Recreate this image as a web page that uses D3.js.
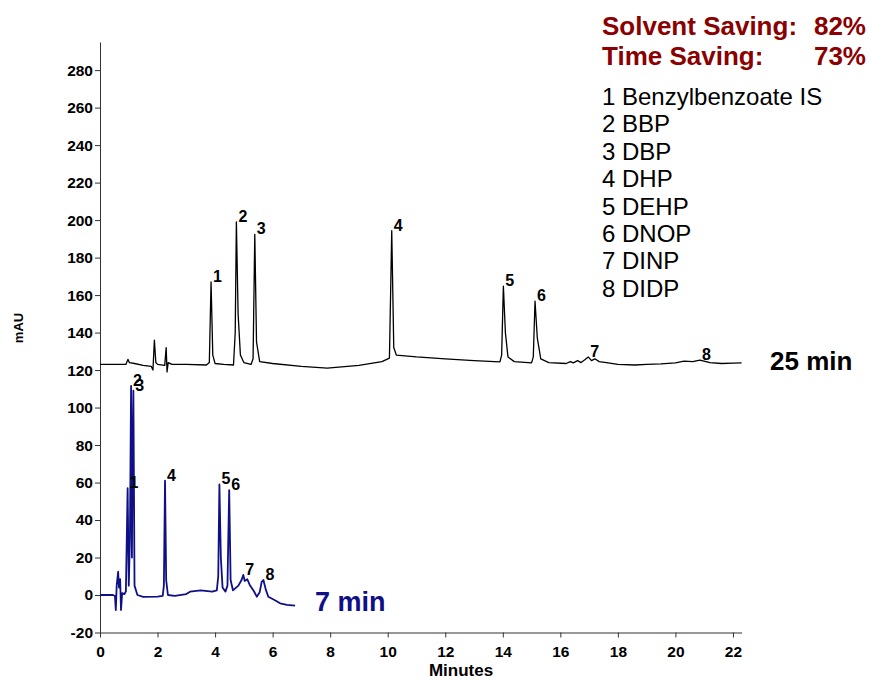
<!DOCTYPE html>
<html>
<head>
<meta charset="utf-8">
<script src="https://cdn.jsdelivr.net/npm/d3@7"></script>
<style>
  body { margin: 0; background: #fff; }
  svg { display: block; font-family: Arial, "Liberation Sans", sans-serif; }
</style>
</head>
<body>
<svg id="chart" width="870" height="680"></svg>
<script>
// 25 min run (black), [minutes, mAU]
const trace25 = [
  [0, 123], [0.9, 123], [0.97, 125.7], [1.02, 124], [1.2, 123.5], [1.5, 122.5], [1.78, 122],
  [1.84, 120], [1.89, 136], [1.94, 124], [2.0, 123], [2.25, 122.5], [2.3, 132], [2.33, 119],
  [2.37, 124], [2.5, 123], [3.0, 123], [3.7, 122.7], [3.8, 124], [3.86, 167], [3.92, 128],
  [4.0, 123.5], [4.3, 123], [4.64, 122.7], [4.7, 140], [4.74, 199], [4.8, 150], [4.88, 128],
  [5.0, 124], [5.25, 123], [5.32, 126], [5.38, 192.4], [5.44, 135], [5.55, 124.5], [6.0, 123.5],
  [7.0, 122], [7.9, 121], [9.0, 122.5], [9.8, 124.5], [10.06, 126.4], [10.14, 194.3], [10.21, 132],
  [10.3, 128], [11, 127], [12, 126], [13, 125], [13.9, 124.4], [13.96, 128], [14.02, 164.8],
  [14.09, 140], [14.18, 127], [14.4, 124.5], [15.0, 123.8], [15.06, 127], [15.12, 156.8],
  [15.2, 137], [15.32, 126], [15.6, 124], [16.2, 123.5], [16.35, 124.5], [16.45, 123.8],
  [16.6, 125], [16.72, 124], [16.85, 125.5], [16.97, 127], [17.08, 125], [17.2, 126],
  [17.35, 124.5], [17.6, 124], [18, 123], [18.6, 122.7], [19, 123], [19.5, 123.3], [20, 123.8],
  [20.3, 124.8], [20.6, 124.5], [20.85, 125.3], [21.2, 124], [21.6, 123.5], [22, 123.7], [22.3, 123.8]
];

// 7 min run (navy), [minutes, mAU]
const trace7 = [
  [0, 0], [0.45, 0], [0.52, -0.5], [0.55, -8], [0.58, 5], [0.63, 12.4], [0.66, 4], [0.7, 8.4],
  [0.73, -8], [0.77, 1], [0.85, 0.5], [0.9, 2], [0.96, 57], [1.0, 5], [1.04, 30], [1.08, 111.5],
  [1.11, 20], [1.13, 72], [1.16, 109], [1.2, 5], [1.3, 0], [1.5, -1], [2.0, -0.9], [2.18, -0.5],
  [2.22, 5], [2.26, 61], [2.3, 8], [2.36, 0], [2.6, -0.5], [3.0, 0.5], [3.13, 1.8], [3.5, 2.5],
  [3.9, 1.8], [4.06, 2.5], [4.11, 10], [4.15, 59], [4.2, 20], [4.26, 4], [4.36, 1.8], [4.43, 5],
  [4.49, 56], [4.54, 8], [4.62, 2.5], [4.81, 5], [4.92, 8], [4.98, 10.7], [5.03, 7.5], [5.12, 8.4],
  [5.2, 5.5], [5.35, 2], [5.45, -0.9], [5.55, 1.5], [5.62, 7], [5.68, 8], [5.76, 3], [5.85, -0.9],
  [6.05, -2.5], [6.26, -4.4], [6.5, -5.3], [6.78, -5.7]
];

const peakIds = [1, 2, 3, 4, 5, 6, 7, 8];
const peakTimes25 = [3.86, 4.74, 5.38, 10.14, 14.02, 15.12, 16.97, 20.85];
const peakHeights25 = [167, 199, 192.4, 194.3, 164.8, 156.8, 127, 125.3];
const peakTimes7 = [0.96, 1.08, 1.16, 2.26, 4.15, 4.49, 4.98, 5.68];
const peakHeights7 = [57, 111.5, 109, 61, 59, 56, 10.7, 8];

const compounds = ['Benzylbenzoate IS', 'BBP', 'DBP', 'DHP', 'DEHP', 'DNOP', 'DINP', 'DIDP'];
const savingLabels = ['Solvent Saving:', 'Time Saving:'];
const savingValues = ['82%', '73%'];
const runLabels = ['25 min', '7 min'];

const xTicks = d3.range(0, 23, 2);
const yTicks = d3.range(-20, 281, 20);

const svg = d3.select('#chart');
const plotLeft = 100, plotRight = 741.6, plotTop = 42, plotBottom = 632.5;

const x = d3.scaleLinear().domain([0, 22.3]).range([plotLeft, plotRight]);
const y = d3.scaleLinear().domain([-20, 295]).range([plotBottom, plotTop]);

const red = '#8b0000';
const navy = '#0f0f88';

// axes
const xAxis = d3.axisBottom(x).tickValues(xTicks).tickSize(5).tickSizeOuter(0).tickFormat((v) => String(v));
const gx = svg.append('g').attr('transform', `translate(0,${plotBottom})`).call(xAxis);
gx.selectAll('text').attr('dy', '1.05em').style('font-size', '15.5px').style('font-weight', 'bold').attr('fill', '#000');

const yAxis = d3.axisLeft(y).tickValues(yTicks).tickSize(5).tickSizeOuter(0).tickFormat((v) => String(v));
const gy = svg.append('g').attr('transform', `translate(${plotLeft},0)`).call(yAxis);
gy.selectAll('text').attr('x', -7).style('font-size', '15.5px').style('font-weight', 'bold').attr('fill', '#000');

svg.selectAll('.domain, .tick line').attr('stroke', '#333');

svg.append('text')
  .attr('x', 461).attr('y', 676)
  .attr('text-anchor', 'middle')
  .style('font-size', '17px').style('font-weight', 'bold')
  .text('Minutes');

svg.append('text')
  .attr('transform', 'translate(23,328) rotate(-90)')
  .attr('text-anchor', 'middle')
  .style('font-size', '13px').style('font-weight', 'bold')
  .text('mAU');

// traces
const line = d3.line().x((d) => x(d[0])).y((d) => y(d[1]));

svg.append('path')
  .datum(trace25)
  .attr('d', line)
  .attr('fill', 'none')
  .attr('stroke', '#000')
  .attr('stroke-width', 1.3)
  .attr('stroke-linejoin', 'round');

svg.append('path')
  .datum(trace7)
  .attr('d', line)
  .attr('fill', 'none')
  .attr('stroke', navy)
  .attr('stroke-width', 1.8)
  .attr('stroke-linejoin', 'round');

// peak numbers
function peakLabels(times, heights) {
  svg.append('g')
    .selectAll('text')
    .data(peakIds)
    .enter()
    .append('text')
    .attr('x', (d, i) => x(times[i]) + 2)
    .attr('y', (d, i) => y(heights[i]))
    .style('font-size', '16px')
    .style('font-weight', 'bold')
    .text((d) => d);
}
peakLabels(peakTimes25, peakHeights25);
peakLabels(peakTimes7, peakHeights7);

// run labels
svg.append('text')
  .attr('x', 770).attr('y', 370)
  .style('font-size', '26px').style('font-weight', 'bold')
  .text(runLabels[0]);

svg.append('text')
  .attr('x', 315).attr('y', 611)
  .attr('fill', navy)
  .style('font-size', '27px').style('font-weight', 'bold')
  .text(runLabels[1]);

// savings
savingLabels.forEach((s, i) => {
  const yy = 35 + i * 30;
  svg.append('text')
    .attr('x', 602).attr('y', yy)
    .attr('fill', red)
    .style('font-size', '26px').style('font-weight', 'bold')
    .text(s);
  svg.append('text')
    .attr('x', 866).attr('y', yy)
    .attr('text-anchor', 'end')
    .attr('fill', red)
    .style('font-size', '26px').style('font-weight', 'bold')
    .text(savingValues[i]);
});

// compound list
svg.append('g')
  .selectAll('text')
  .data(compounds)
  .enter()
  .append('text')
  .attr('x', 602)
  .attr('y', (d, i) => 105 + i * 27.4)
  .style('font-size', '24px')
  .text((d, i) => `${peakIds[i]} ${d}`);
</script>
</body>
</html>
